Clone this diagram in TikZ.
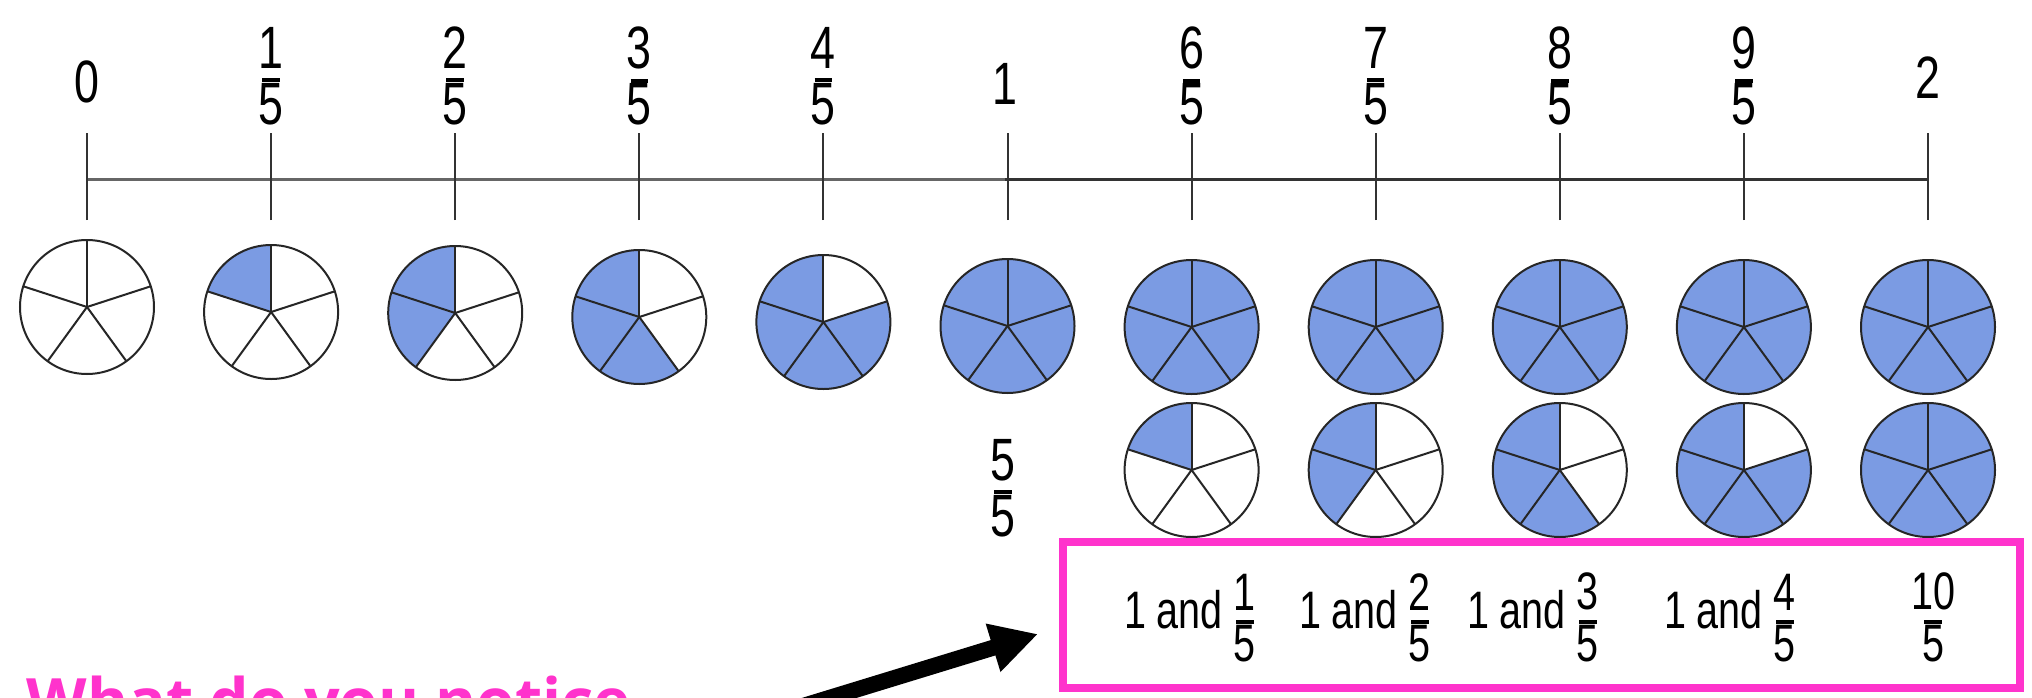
\documentclass[tikz,border=0pt]{standalone}
\usepackage{fontspec}
\setmainfont{Liberation Sans}
\newfontfamily\numfont[FakeStretch=0.75]{Liberation Sans}
\newfontfamily\titlefont{Open Sans}
\usepackage{xcolor}
\usetikzlibrary{
  arrows.meta,
  positioning,
  calc
}

\definecolor{rosa}{HTML}{FF33CC}
\definecolor{azulpie}{HTML}{7B9BE3}
\definecolor{linha}{HTML}{333333}

% fração de caderno: traço curto e grosso
\newcommand{\fr}[2]{\shortstack{#1\\[-0.2pt]\rule{5pt}{1.1pt}\\[-2.7pt]#2}}

% pizza em cinco partes, #3 partes pintadas
\newcommand{\pizza}[3]{%
  \fill[azulpie] (#1,#2) -- ++(90:67) arc[start angle=90, delta angle=72*#3, radius=67] -- cycle;
  \draw[fatia] (#1,#2) circle[radius=67];
  \foreach \a in {18,90,162,234,306} {\draw[fatia] (#1,#2) -- ++(\a:67);}
}

\begin{document}
\begin{tikzpicture}[
      x=0.1mm, y=0.1mm,
      rotulo/.style={font=\numfont\fontsize{17}{20}\selectfont, inner sep=0pt},
      caixarotulo/.style={font=\numfont\fontsize{15}{18}\selectfont, inner sep=0pt, anchor=base},
      fatia/.style={draw=black!85, line width=0.2mm},
      reta/.style={line width=0.3mm},
      marca/.style={draw=linha, line width=0.2mm},
      caixa/.style={draw=rosa, line width=0.8mm, minimum width=95.7mm,
                    minimum height=14.6mm, inner sep=0pt},
      seta/.style={-{Triangle[length=4.7mm, width=4.7mm]}, line width=1.6mm},
      pergunta/.style={font=\titlefont\bfseries\fontsize{17.8}{21}\selectfont,
                       text=rosa, anchor=base west, inner sep=0pt}
  ]
      \path[use as bounding box, fill=white] (0,0) rectangle (2032,697);

      % Reta numérica de 0 a 2
      \draw[reta, draw=gray!80!black] (87,518) -- (1005,518);
      \draw[reta, draw=linha] (1005,518) -- (1928,518);
      \foreach \i in {0,...,10}
        \draw[marca] (87+184.1*\i,477) -- ++(0,87);

      % Rótulos da reta
      \node[rotulo] (r0) at (87,615) {0};
      \foreach \i in {1,2,3,4,6,7,8,9}
        \node[rotulo] (r\i) at (87+184.1*\i,621) {\fr{\i}{5}};
      \node[rotulo] (r5) at (1005,613) {1};
      \node[rotulo] (r10) at (1928,619) {2};

      % Primeira fileira de pizzas
      \foreach \i/\y/\k in {0/390/0, 1/385/1, 2/384/2, 3/380/3, 4/375/4, 5/371/5,
                            6/370/5, 7/370/5, 8/370/5, 9/370/5, 10/370/5}
        {\pizza{87+184.1*\i}{\y}{\k}}

      % Segunda fileira (a parte além do inteiro)
      \foreach \i/\k in {6/1, 7/2, 8/3, 9/4, 10/5}
        {\pizza{87+184.1*\i}{227}{\k}}
      \node[rotulo] (cinco) at (1003,209) {\fr{5}{5}};

      % Caixa com os números mistos
      \node[caixa] (caixa) at (1541.5,82) {};
      \foreach \x/\n in {1190/1, 1365/2, 1533/3, 1730/4}
        \node[caixarotulo] (m\n) at (\x,69) {1 and \raisebox{-9.5pt}{\fr{\n}{5}}};
      \node[caixarotulo] (m5) at (1933,69) {\raisebox{-9.5pt}{\fr{10}{5}}};

      % Pergunta e seta
      \node[pergunta] (pergunta) at (26,-26) {What do you notice};
      \coordinate (cauda) at (780,-16);
      \draw[seta] (cauda) -- ([shift={(-21,-19)}]caixa.west);
  \end{tikzpicture}
\end{document}
